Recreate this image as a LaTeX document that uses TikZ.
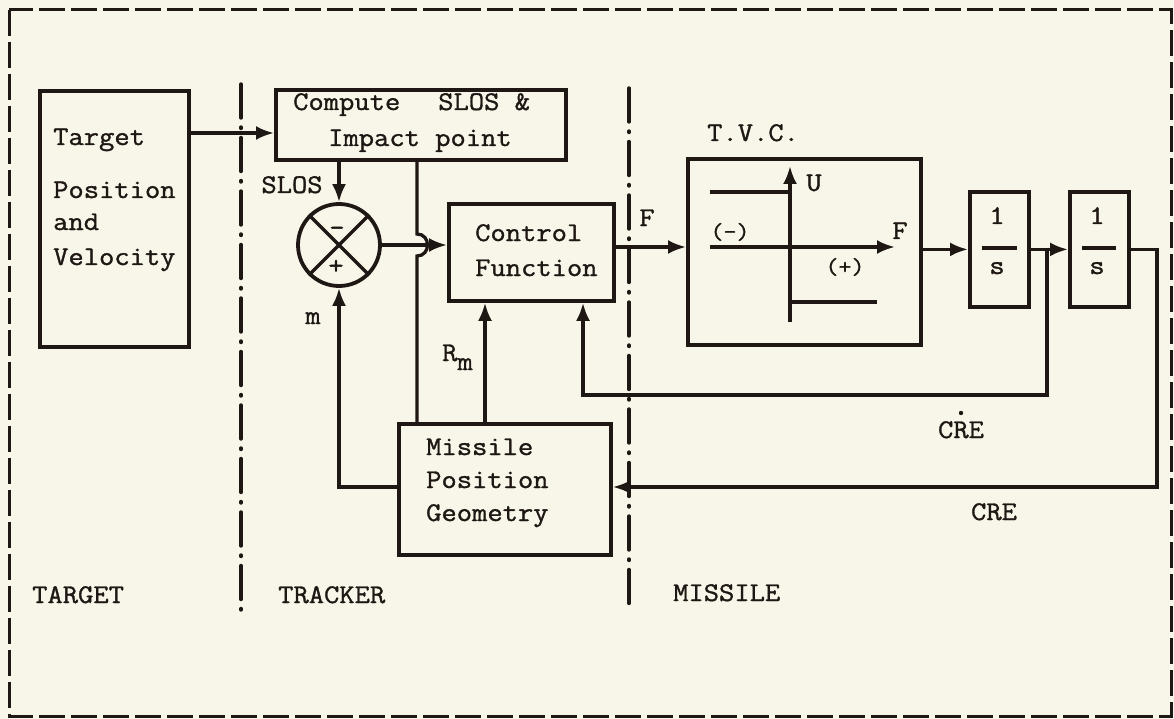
\documentclass[tikz,border=0pt]{standalone}
\usepackage{fontspec}
\newfontfamily\monof[FakeStretch=1.1,FakeBold=1.2]{Latin Modern Mono}
\usetikzlibrary{arrows.meta}
\definecolor{bg}{HTML}{F8F6E9}
\definecolor{ink}{HTML}{1E1714}
\begin{document}
\begin{tikzpicture}[x=1pt,y=-1pt,
  box/.style={draw=ink, line width=3.8pt, anchor=north west, inner sep=0pt},
  lbl/.style={inner sep=0pt, text=ink, font=\monof\fontsize{27}{34}\selectfont, text height=16pt, text depth=0pt},
  smlbl/.style={inner sep=0pt, text=ink, font=\monof\fontsize{23}{26}\selectfont, text height=14pt, text depth=0pt},
  conn/.style={draw=ink, line width=3.3pt},
  arr/.style={conn, -{Latex[length=18pt,width=14pt]}},
  divider/.style={draw=ink, line width=3.4pt, line cap=round, dash pattern=on 34pt off 9pt on 1.5pt off 9pt},
  outerframe/.style={draw=ink, line width=3pt, dash pattern=on 26pt off 6pt}]
\useasboundingbox (0,0) rectangle (1174,719);
\fill[bg] (0,0) rectangle (1174,719);
\draw[outerframe] (9,10) rectangle (1171,716);
% dividers
\draw[divider] (241,84) -- (241,610);
\draw[divider] (629,88) -- (629,608);
% boxes
\node[box, minimum width=149pt, minimum height=256pt] (tgt) at (38,89) {};
\node[box, minimum width=290pt, minimum height=70pt] (cmp) at (274,88) {};
\node[circle, draw=ink, line width=3.8pt, minimum size=82pt, inner sep=0pt] (sum) at (339,245) {};
\node[box, minimum width=165pt, minimum height=97pt] (ctrl) at (447,202) {};
\node[box, minimum width=233pt, minimum height=186pt] (tvc) at (686,157) {};
\node[box, minimum width=59pt, minimum height=115pt] (int1) at (968,190) {};
\node[box, minimum width=59pt, minimum height=115pt] (int2) at (1068,190) {};
\node[box, minimum width=212pt, minimum height=131pt] (mpg) at (397,422) {};
% texts
\node[lbl, anchor=west] (t1) at (53,137) {Target};
\node[lbl, anchor=west] (t2) at (53,190) {Position};
\node[lbl, anchor=west] (t3) at (53,222) {and};
\node[lbl, anchor=west] (t4) at (53,257) {Velocity};
\node[lbl, anchor=west] (c1) at (293,102) {Compute\hspace{38pt}SLOS \&};
\node[lbl, anchor=west] (c2) at (328,138) {Impact point};
\node[lbl, anchor=west] (f1) at (475,233) {Control};
\node[lbl, anchor=west] (f2) at (475,268) {Function};
\node[lbl, anchor=west] (g1) at (426,447) {Missile};
\node[lbl, anchor=west] (g2) at (426,480) {Position};
\node[lbl, anchor=west] (g3) at (426,513) {Geometry};
\node[lbl, anchor=west] (tvct) at (707,133) {T.V.C.};
\node[lbl] (slos) at (292,185) {SLOS};
\node[lbl] (mlab) at (313,316) {m};
\node[lbl, anchor=west] (rm) at (442,353) {R\raisebox{-9pt}{m}};
\node[lbl] (flab) at (647,218) {F};
\node[lbl] (minus) at (337,228) {-};
\node[lbl] (plus) at (336,266) {+};
\node[lbl] (ulab) at (814,183) {U};
\node[lbl] (faxis) at (900,231) {F};
\node[smlbl] (neg) at (730,232) {(-)};
\node[smlbl] (pos) at (845,267) {(+)};
\node[lbl] (one1) at (997,216) {1};
\node[lbl] (s1) at (997,266) {s};
\node[lbl] (one2) at (1097,216) {1};
\node[lbl] (s2) at (1097,266) {s};
\node[lbl] (cred) at (961,430) {CRE};
\fill[ink] (961,413) circle[radius=2.2pt];
\node[lbl] (cre) at (994,512) {CRE};
\node[lbl, anchor=west] (lt) at (32,595) {TARGET};
\node[lbl, anchor=west] (ltr) at (278,595) {TRACKER};
\node[lbl, anchor=west] (lm) at (673,593) {MISSILE};
% fraction bars
\draw[conn, line width=3.8pt] (982,248) -- (1017,248);
\draw[conn, line width=3.8pt] (1082,248) -- (1116,248);
% summing junction cross
\draw[conn] (sum.north west) -- (sum.south east);
\draw[conn] (sum.north east) -- (sum.south west);
% TVC characteristic
\draw[arr] (790,322) -- (790,166);
\draw[arr] (710,247) -- (895,247);
\draw[conn] (710,192) -- (790,192);
\draw[conn] (790,302) -- (877,302);
% connectors
\coordinate (tin) at (0,133);
\draw[arr] (tgt.east |- tin) -- (cmp.west |- tin);
\draw[arr] (cmp.south -| sum.north) -- (sum.north);
\draw[arr] (sum.east) -- (sum.east -| ctrl.west);
\coordinate (hx) at (417,0);
\draw[conn] (cmp.south -| hx) -- (417,234) .. controls (431,234) and (431,256) .. (417,256) -- (mpg.north -| hx);
\coordinate (rx) at (485,0);
\draw[arr] (mpg.north -| rx) -- (ctrl.south -| rx);
\coordinate (fy) at (0,247);
\draw[arr] (ctrl.east |- fy) -- (tvc.west |- fy);
\draw[arr] (tvc.east |- int1.west) -- (int1.west);
\draw[arr] (int1.east) -- (int2.west);
\coordinate (j1) at (1047,247.5);
\coordinate (crx) at (583,395);
\draw[arr] (j1) |- (crx) -- (crx |- ctrl.south);
\coordinate (cr) at (1157,487);
\draw[arr] (int2.east) -| (cr) -- (cr -| mpg.east);
\coordinate (mx) at (339,487);
\draw[arr] (mpg.west |- mx) -- (mx) -- (mx |- sum.south);
\end{tikzpicture}
\end{document}
